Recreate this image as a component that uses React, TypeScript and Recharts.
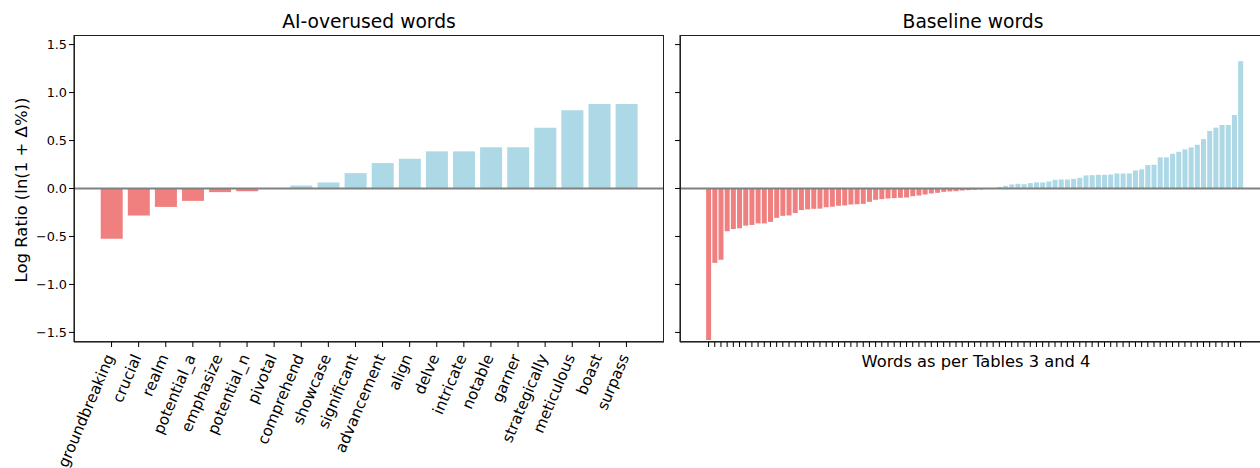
import { BarChart, Bar, XAxis, YAxis, Cell, ReferenceLine } from 'recharts'

const FONT = '"DejaVu Sans", Verdana, sans-serif'
const RED = '#F08080'
const BLUE = '#ADD8E6'

// AI-overused words (left panel)
const aiWords = [
  'groundbreaking', 'crucial', 'realm', 'potential_a', 'emphasize', 'potential_n', 'pivotal',
  'comprehend', 'showcase', 'significant', 'advancement', 'align', 'delve', 'intricate',
  'notable', 'garner', 'strategically', 'meticulous', 'boast', 'surpass',
]
const aiValues = [
  -0.525, -0.282, -0.192, -0.129, -0.038, -0.028, 0, 0.031, 0.063, 0.16, 0.265, 0.31, 0.387,
  0.387, 0.43, 0.43, 0.634, 0.815, 0.88, 0.88,
]

// baseline words (right panel), sorted, labels not shown
const baselineValues = [
  -1.58, -0.775, -0.743, -0.446, -0.422, -0.415, -0.387, -0.38, -0.364, -0.364, -0.348, -0.306,
  -0.285, -0.281, -0.256, -0.225, -0.218, -0.212, -0.21, -0.195, -0.19, -0.18, -0.177, -0.167,
  -0.164, -0.16, -0.139, -0.118, -0.111, -0.104, -0.1, -0.097, -0.094, -0.08, -0.073, -0.063,
  -0.052, -0.045, -0.035, -0.031, -0.028, -0.021, -0.017, -0.014, -0.01, 0, 0,
  0.017, 0.028, 0.042, 0.049, 0.045, 0.056, 0.063, 0.063, 0.073, 0.091, 0.094, 0.094, 0.101,
  0.111, 0.136, 0.139, 0.143, 0.143, 0.146, 0.157, 0.157, 0.157, 0.188, 0.199, 0.244, 0.247,
  0.324, 0.324, 0.362, 0.383, 0.408, 0.428, 0.456, 0.515, 0.599, 0.634, 0.662, 0.662, 0.766,
  1.327,
]

const yTicks = [-1.5, -1.0, -0.5, 0, 0.5, 1.0, 1.5]
const yDomain: [number, number] = [-1.6, 1.6]

const aiData = aiWords.map((word, i) => ({ word, value: aiValues[i] }))
const baseData = baselineValues.map((value, i) => ({ idx: i, value }))

const fmtY = (v: number) => {
  const s = Math.abs(v).toFixed(1)
  return v < 0 ? '\u2212' + s : s
}

const barColor = (v: number) => (v < 0 ? RED : BLUE)

function WordTick(props: any) {
  const { x, y, payload } = props
  return (
    <g transform={`translate(${x + 3},${y + 8})`}>
      <text
        x={0}
        y={0}
        textAnchor="end"
        transform="rotate(-67)"
        fontSize={15.3}
        fontFamily={FONT}
        fill="#000"
      >
        {payload.value}
      </text>
    </g>
  )
}

const NoLabel = () => <g />

const axisStroke = { stroke: '#000', strokeWidth: 1 }

// plot frames (matplotlib spines)
const frame = { position: 'absolute' as const, top: 35, height: 307, border: '1px solid #222', boxSizing: 'border-box' as const, pointerEvents: 'none' as const }

export default function App() {
  return (
    <div
      style={{
        position: 'fixed',
        left: 0,
        top: 0,
        width: 1260,
        height: 468,
        overflow: 'hidden',
        background: '#fff',
        fontFamily: FONT,
        color: '#000',
      }}
    >
      <div style={{ position: 'absolute', left: 74, width: 590, top: 11, textAlign: 'center', fontSize: 18.7 }}>
        AI-overused words
      </div>
      <div style={{ position: 'absolute', left: 680, width: 586, top: 11, textAlign: 'center', fontSize: 18.7 }}>
        Baseline words
      </div>
      <div
        style={{
          position: 'absolute',
          left: 21,
          top: 190,
          transform: 'translate(-50%,-50%) rotate(-90deg)',
          whiteSpace: 'nowrap',
          fontSize: 16.5,
        }}
      >
        Log Ratio (ln(1 + Δ%))
      </div>
      <div style={{ position: 'absolute', left: 680, width: 592, top: 352, textAlign: 'center', fontSize: 16.3 }}>
        Words as per Tables 3 and 4
      </div>

      <BarChart
        width={680}
        height={468}
        data={aiData}
        margin={{ top: 35, right: 16, left: 0, bottom: 0 }}
        barCategoryGap="10%"
        style={{ position: 'absolute', left: 0, top: 0 }}
      >
        <XAxis
          dataKey="word"
          interval={0}
          tick={<WordTick />}
          tickSize={5}
          tickLine={axisStroke}
          axisLine={axisStroke}
          height={126}
          padding={{ left: 24, right: 24 }}
        />
        <YAxis
          type="number"
          domain={yDomain}
          ticks={yTicks}
          allowDataOverflow
          width={74}
          tickSize={5}
          tickFormatter={fmtY}
          tick={{ fontSize: 12.8, fill: '#000', fontFamily: FONT }}
          tickLine={axisStroke}
          axisLine={axisStroke}
        />
        <Bar dataKey="value" isAnimationActive={false}>
          {aiData.map((d) => (
            <Cell key={d.word} fill={barColor(d.value)} />
          ))}
        </Bar>
        <ReferenceLine y={0} stroke="#808080" strokeWidth={2} />
      </BarChart>

      <BarChart
        width={620}
        height={468}
        data={baseData}
        margin={{ top: 35, right: 18, left: 0, bottom: 0 }}
        barCategoryGap="10%"
        style={{ position: 'absolute', left: 670, top: 0 }}
      >
        <XAxis
          dataKey="idx"
          interval={0}
          tick={NoLabel}
          tickSize={5}
          tickLine={axisStroke}
          axisLine={axisStroke}
          height={126}
          padding={{ left: 25.5, right: 28.3 }}
        />
        <YAxis
          type="number"
          domain={yDomain}
          ticks={yTicks}
          allowDataOverflow
          width={10}
          tickSize={5}
          tick={NoLabel}
          tickLine={axisStroke}
          axisLine={axisStroke}
        />
        <Bar dataKey="value" isAnimationActive={false}>
          {baseData.map((d) => (
            <Cell key={d.idx} fill={barColor(d.value)} />
          ))}
        </Bar>
        <ReferenceLine y={0} stroke="#808080" strokeWidth={2} />
      </BarChart>

      <div style={{ ...frame, left: 74, width: 590 }} />
      <div style={{ ...frame, left: 680, width: 592 }} />
    </div>
  )
}
